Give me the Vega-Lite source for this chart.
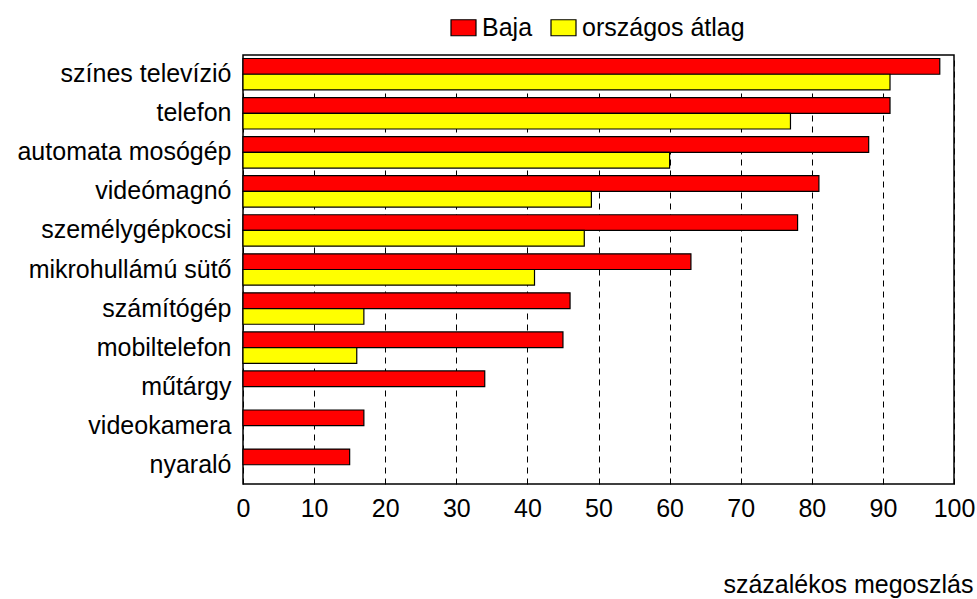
{
  "$schema": "https://vega.github.io/schema/vega-lite/v6.json",
  "autosize": {"type": "none"},
  "padding": {"left": 243, "top": 55, "right": 23, "bottom": 115},
  "width": 711,
  "height": 429,
  "background": "white",
  "config": {
    "font": "Liberation Sans",
    "view": {"stroke": "#000000", "strokeWidth": 1.5}
  },
  "data": {
    "values": [
      {"kategoria": "színes televízió", "sorozat": "Baja", "ertek": 98},
      {"kategoria": "színes televízió", "sorozat": "országos átlag", "ertek": 91},
      {"kategoria": "telefon", "sorozat": "Baja", "ertek": 91},
      {"kategoria": "telefon", "sorozat": "országos átlag", "ertek": 77},
      {"kategoria": "automata mosógép", "sorozat": "Baja", "ertek": 88},
      {"kategoria": "automata mosógép", "sorozat": "országos átlag", "ertek": 60},
      {"kategoria": "videómagnó", "sorozat": "Baja", "ertek": 81},
      {"kategoria": "videómagnó", "sorozat": "országos átlag", "ertek": 49},
      {"kategoria": "személygépkocsi", "sorozat": "Baja", "ertek": 78},
      {"kategoria": "személygépkocsi", "sorozat": "országos átlag", "ertek": 48},
      {"kategoria": "mikrohullámú sütő", "sorozat": "Baja", "ertek": 63},
      {"kategoria": "mikrohullámú sütő", "sorozat": "országos átlag", "ertek": 41},
      {"kategoria": "számítógép", "sorozat": "Baja", "ertek": 46},
      {"kategoria": "számítógép", "sorozat": "országos átlag", "ertek": 17},
      {"kategoria": "mobiltelefon", "sorozat": "Baja", "ertek": 45},
      {"kategoria": "mobiltelefon", "sorozat": "országos átlag", "ertek": 16},
      {"kategoria": "műtárgy", "sorozat": "Baja", "ertek": 34},
      {"kategoria": "videokamera", "sorozat": "Baja", "ertek": 17},
      {"kategoria": "nyaraló", "sorozat": "Baja", "ertek": 15}
    ]
  },
  "mark": {"type": "bar", "stroke": "#000000", "strokeWidth": 1.2, "opacity": 1},
  "encoding": {
    "y": {
      "field": "kategoria",
      "type": "nominal",
      "sort": ["színes televízió", "telefon", "automata mosógép", "videómagnó", "személygépkocsi", "mikrohullámú sütő", "számítógép", "mobiltelefon", "műtárgy", "videokamera", "nyaraló"],
      "scale": {"paddingInner": 0.195, "paddingOuter": 0.09},
      "axis": {
        "title": null,
        "ticks": false,
        "domain": false,
        "grid": false,
        "labelPadding": 12,
        "labelLimit": 400,
        "labelFontSize": 25,
        "labelColor": "#000000",
        "labelFont": "Liberation Sans"
      }
    },
    "yOffset": {
      "field": "sorozat",
      "type": "nominal",
      "scale": {"domain": ["Baja", "országos átlag"], "paddingInner": 0, "paddingOuter": 0}
    },
    "x": {
      "field": "ertek",
      "type": "quantitative",
      "scale": {"domain": [0, 100], "nice": false},
      "axis": {
        "values": [0, 10, 20, 30, 40, 50, 60, 70, 80, 90, 100],
        "title": "százalékos megoszlás",
        "titleFontSize": 25,
        "titleFontWeight": "normal",
        "titleColor": "#000000",
        "titleAnchor": "end",
        "titleAlign": "right",
        "titleBaseline": "alphabetic",
        "titleX": 730,
        "titleY": 108,
        "titleLimit": 600,
        "ticks": false,
        "domain": false,
        "labelPadding": 12,
        "labelFontSize": 25,
        "labelColor": "#000000",
        "labelFlush": false,
        "grid": true,
        "gridColor": "#000000",
        "gridDash": [6, 5],
        "gridWidth": 1,
        "gridOpacity": 1
      }
    },
    "color": {
      "field": "sorozat",
      "type": "nominal",
      "scale": {"domain": ["Baja", "országos átlag"], "range": ["#FF0000", "#FFFF00"]},
      "legend": {
        "title": null,
        "orient": "none",
        "direction": "horizontal",
        "legendX": 207,
        "legendY": -41,
        "padding": 0,
        "columnPadding": 15,
        "labelFontSize": 25,
        "labelColor": "#000000",
        "labelOffset": 5,
        "labelLimit": 400,
        "symbolType": "M-1,-0.64H1V0.64H-1Z",
        "symbolSize": 625,
        "symbolStrokeColor": "#000000",
        "symbolStrokeWidth": 1.2,
        "symbolOpacity": 1
      }
    }
  }
}
